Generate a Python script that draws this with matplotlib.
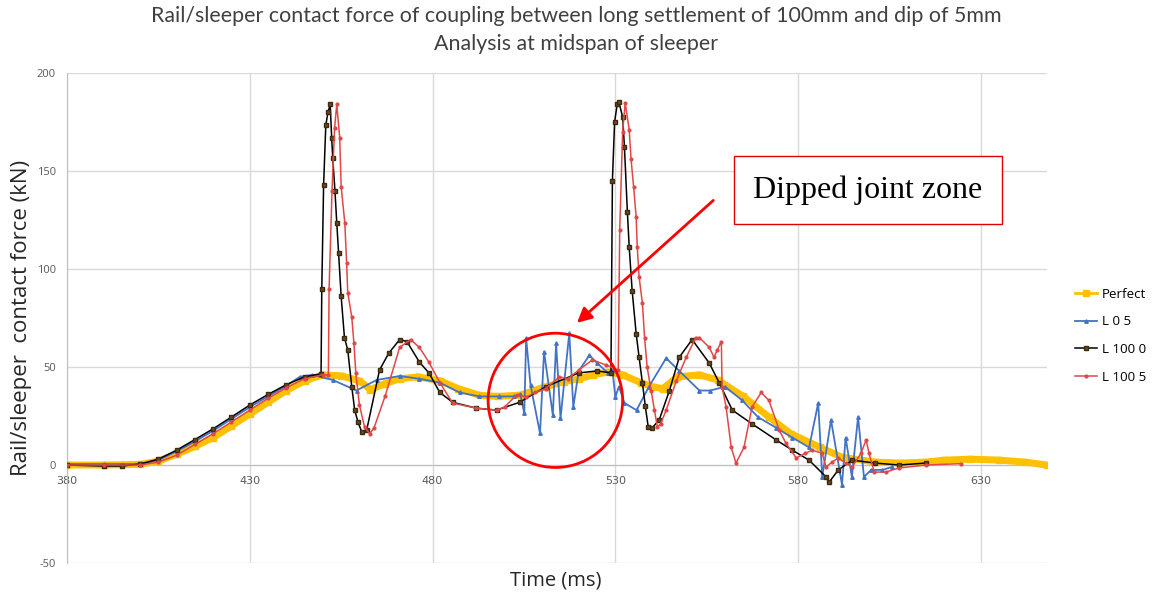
import matplotlib.pyplot as plt
from matplotlib.patches import Ellipse

plt.rcParams['axes.unicode_minus'] = False

# Perfect track
t_perfect = [380, 390, 400, 405, 410, 415, 420, 425, 430, 435, 440, 445, 450, 455, 460, 463, 467,
             471, 476, 482, 487, 493, 498, 504, 511, 516, 520, 524, 528, 532, 537, 540, 543, 547,
             553, 558, 565, 572, 578, 586, 592, 601, 608, 615, 620, 627, 635, 642, 648]
f_perfect = [0, 0, 0.3, 2, 5.5, 9.5, 14, 20, 26, 32, 38, 43, 46, 45.5, 43, 38.5, 41.5,
             44, 45, 43, 39, 35.5, 35, 35.7, 40, 42.5, 44, 46, 47.5, 46, 42, 40, 39, 45,
             46, 43.4, 35, 24.5, 16, 9, 4, 1.5, 1, 1.5, 2.5, 3, 2.5, 1.5, 0]

# L 0 5 (dip only)
t_l05 = [380, 390, 400, 405, 410, 415, 420, 425, 430, 435, 440, 443.7, 447, 452.7, 459.2, 464.7,
         471, 476.4, 482, 487.4, 492.8, 498.3, 502.3, 504, 505.1, 505.6, 506.8, 509.4, 510.5,
         512.9, 513.8, 515, 517.4, 518.5, 520, 522.9, 525, 528, 529.2, 530, 531, 532.5, 535.8,
         539.2, 543.9, 547.5, 553, 556, 560, 564.7, 569, 574, 578.4, 583, 585.5, 586.6, 589,
         592, 593, 594.7, 596.4, 598, 600, 603, 605.7]
f_l05 = [0.5, 0.5, 0.5, 2.5, 7, 12, 17.5, 23.5, 29.5, 35, 40.5, 45, 46, 43.4, 38, 43.4,
         45.4, 44, 42, 37, 35, 35, 35, 36, 26.4, 64.6, 40.8, 16.2, 57.8,
         25.5, 62, 23.8, 67.2, 29.7, 48, 56, 52, 47, 48.5, 34.8, 40, 31.6, 28,
         40, 54.5, 48, 38, 38, 40, 33, 24.5, 19, 14, 9, 31.6, -6, 23,
         -10, 14, -6, 24.5, -6, -2.5, -2.5, -1]

# L 100 0 (settlement only)
t_l1000 = [380, 390, 395, 400, 405, 410, 415, 420, 425, 430, 435, 440, 445, 449.5, 449.7,
           450.2, 450.8, 451.4, 452, 452.4, 452.7, 453.3, 453.8, 454.3, 455, 455.9, 456.8,
           457.9, 458.7, 459.6, 460.6, 462, 465.5, 468, 471, 473, 476.4, 479, 482, 485.5, 492,
           497.5, 503.8, 511, 520, 525, 528.8, 529.2, 529.8, 530.5, 531, 532, 532.5, 533.3,
           533.8, 534.6, 535.7, 536.5, 537.4, 538.2, 539, 540.1, 542, 544.8, 547.5, 551,
           555.7, 558.4, 562, 567.4, 574, 578.4, 583, 587.6, 588.5, 591, 594.8, 601, 607.6, 615]
f_l1000 = [0, -0.5, -0.5, 0.5, 3, 7.6, 13, 18.5, 24.5, 30.6, 36, 41, 45, 46.5, 90,
           143, 173.5, 180, 184, 167, 156.6, 140, 123.5, 108, 86, 65, 58.7,
           40, 28, 22, 17, 18, 48.5, 57, 64, 63, 52.5, 47, 37, 32, 29,
           28, 32, 40, 47, 48, 47, 145, 175, 184, 185, 177.6, 162, 129,
           111, 89, 67, 55, 42, 30, 19.4, 19, 23, 38, 55, 64,
           52, 42, 28, 21, 12.8, 7.6, 2.5, -6, -8.7, -2.5, 2.5, 1, 0, 1]

# L 100 5 (settlement + dip)
t_l1005 = [380, 390, 400, 405, 410, 415, 420, 425, 430, 435, 440, 445, 450, 451.5, 451.7,
           452.5, 453.2, 453.8, 454.6, 455, 456, 456.5, 456.8, 457.9, 458.5, 459, 460, 461.4,
           462.8, 464, 467, 471, 474, 476.4, 479, 482, 485.5, 492, 497.5, 499.7, 503, 505.7,
           508, 511, 514.7, 517, 520, 523.7, 527.5, 530.8, 531.2, 532, 532.7, 533.8, 534.3,
           535, 535.7, 536, 536.5, 537.4, 538, 538.7, 539.8, 540.7, 541.5, 542.4, 543.9, 546.7,
           549.4, 552, 553, 555.7, 557, 557.9, 559, 559.2, 560.3, 561.7, 563, 565.2, 567.4,
           569.9, 572, 574.8, 576.7, 579.5, 582, 583.8, 586.6, 587.6, 589.3, 591, 593, 594.8,
           597.2, 598.6, 599.4, 600.8, 604, 607.6, 615, 624.5]
f_l1005 = [0, 0, 0, 1.5, 5, 10.5, 16, 22, 28, 34, 39.5, 44, 46, 46, 90,
           140, 172, 184, 167, 142, 123.5, 103, 88, 75.5, 62, 47, 30.6, 19.4,
           16, 19, 35, 60, 64, 60, 52.5, 42, 31.6, 29, 28, 29.6, 35.7, 34.7,
           37, 39, 45, 44, 48.5, 53.6, 51, 48.5, 120, 170, 184.7, 171, 156,
           142, 126.5, 111, 96, 82.6, 65, 50, 38, 28, 19.4, 21, 28, 43,
           55, 65, 65, 60, 55, 58.7, 63, 40, 29.6, 9, 1, 9, 29.6,
           37, 33, 18, 11, 3.6, 6, 7.6, 6, -1, 1.5, 3.6, 1, -1,
           6, 12.8, 6, -3.6, -3.6, -1.5, 0, 0.7]

x_ticks = [380, 430, 480, 530, 580, 630]
y_ticks = [-50, 0, 50, 100, 150, 200]

fig = plt.figure(figsize=(11.53, 5.98), dpi=100)
ax = fig.add_axes([0.0581, 0.0585, 0.8497, 0.8194])

ax.plot(t_perfect, f_perfect, color='#FFC000', lw=5, marker='s', ms=4, label='Perfect', zorder=2)
ax.plot(t_l05, f_l05, color='#4472C4', lw=1.3, marker='^', ms=2.5, label='L 0 5', zorder=3)
ax.plot(t_l1000, f_l1000, color='black', lw=1.1, marker='s', ms=2.2, mfc='#6B4A1E', mec='#3A2A10',
        label='L 100 0', zorder=4)
ax.plot(t_l1005, f_l1005, color='#E04848', lw=1.1, marker='o', ms=2, label='L 100 5', zorder=5)

ax.set_xlim(380, 648)
ax.set_ylim(-50, 200)
ax.set_xticks(x_ticks)
ax.set_yticks(y_ticks)
ax.grid(True, color='#D9D9D9', lw=1)
ax.set_axisbelow(True)
ax.tick_params(length=0, labelsize=8, labelcolor='#595959', pad=8)
for lab in ax.get_xticklabels() + ax.get_yticklabels():
    lab.set_family('Open Sans')

ax.spines['bottom'].set_position(('data', 0))
ax.spines['bottom'].set_color('#BFBFBF')
ax.spines['left'].set_color('#BFBFBF')
ax.spines['top'].set_visible(False)
ax.spines['right'].set_visible(False)

fig.text(0.5, 0.973, 'Rail/sleeper contact force of coupling between long settlement of 100mm and dip of 5mm',
         ha='center', va='center', fontsize=15.4, family='Lato', color='#404040')
fig.text(0.5, 0.926, 'Analysis at midspan of sleeper',
         ha='center', va='center', fontsize=15.4, family='Lato', color='#404040')
fig.text(0.019, 0.468, 'Rail/sleeper  contact force (kN)', rotation=90, ha='center', va='center',
         fontsize=16, family='Open Sans', color='#262626')
fig.text(0.482, 0.03, 'Time (ms)', ha='center', va='center', fontsize=14.5, family='Open Sans',
         color='#262626')

leg = fig.legend(loc='upper left', bbox_to_anchor=(0.927, 0.53), frameon=False,
                 handlelength=1.6, handletextpad=0.4, labelspacing=1.1, borderpad=0,
                 prop={'family': 'Open Sans', 'size': 9.6})
leg.legend_handles[0].set_linewidth(2)

# annotation: dipped joint zone
ax.add_patch(Ellipse((513.6, 33), 36.8, 68.5, fill=False, ec='#FF0000', lw=2, zorder=6))
ax.annotate('', xy=(519.5, 72.5), xytext=(556.8, 135),
            arrowprops=dict(arrowstyle='-|>', color='#FF0000', lw=2, mutation_scale=22,
                            shrinkA=0, shrinkB=0), zorder=6)
ax.text(599.1, 140.3, 'Dipped joint zone', ha='center', va='center', fontsize=23,
        family='Liberation Serif', color='black', zorder=7,
        bbox=dict(boxstyle='square,pad=0.6', fc='white', ec='#E00000', lw=1))

fig.savefig('out.png', dpi=100)
